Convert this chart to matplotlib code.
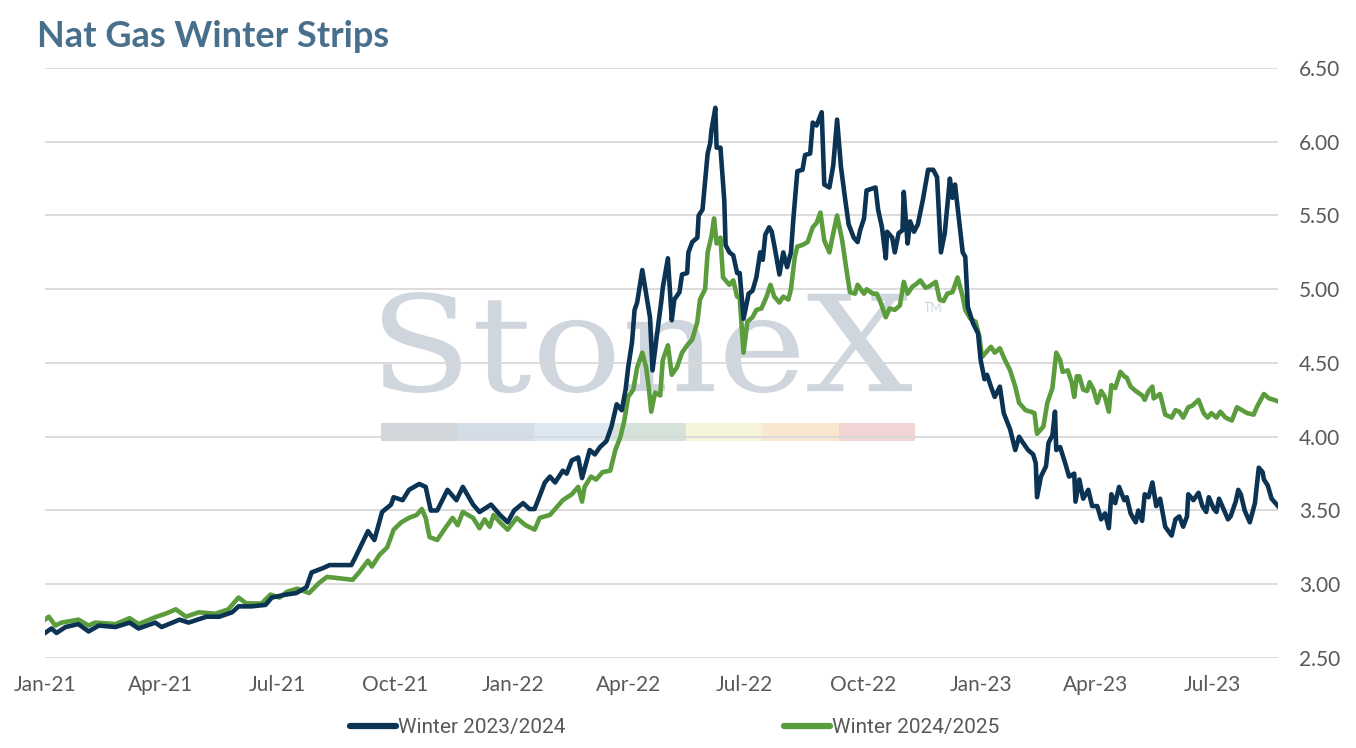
import numpy as np
import pandas as pd
import matplotlib
matplotlib.use('Agg')
import matplotlib.pyplot as plt
import matplotlib.dates as mdates
from matplotlib.ticker import FormatStrFormatter
from matplotlib.textpath import TextPath
from matplotlib.patches import PathPatch, Rectangle
from matplotlib.font_manager import FontProperties
from matplotlib.transforms import Affine2D, IdentityTransform

# ---- data ($/MMBtu) ----
w2324_dates = [
    '2021-01-01', '2021-01-06', '2021-01-10', '2021-01-17', '2021-01-27', '2021-02-04', '2021-02-12', '2021-02-25', '2021-03-08', '2021-03-15',
    '2021-03-28', '2021-04-02', '2021-04-16', '2021-04-23', '2021-05-07', '2021-05-17', '2021-05-27', '2021-06-01', '2021-06-11', '2021-06-22',
    '2021-06-27', '2021-07-08', '2021-07-16', '2021-07-24', '2021-07-28', '2021-08-06', '2021-08-11', '2021-08-19', '2021-08-28', '2021-08-31',
    '2021-09-05', '2021-09-10', '2021-09-15', '2021-09-21', '2021-09-28', '2021-09-30', '2021-10-07', '2021-10-12', '2021-10-20', '2021-10-25',
    '2021-10-29', '2021-11-03', '2021-11-11', '2021-11-18', '2021-11-23', '2021-12-01', '2021-12-06', '2021-12-15', '2021-12-22', '2021-12-28',
    '2022-01-02', '2022-01-09', '2022-01-14', '2022-01-18', '2022-01-26', '2022-01-30', '2022-02-03', '2022-02-09', '2022-02-12', '2022-02-16',
    '2022-02-21', '2022-02-24', '2022-03-02', '2022-03-06', '2022-03-10', '2022-03-15', '2022-03-19', '2022-03-23', '2022-03-27', '2022-03-30',
    '2022-04-01', '2022-04-04', '2022-04-06', '2022-04-08', '2022-04-12', '2022-04-15', '2022-04-18', '2022-04-20', '2022-04-23', '2022-04-27',
    '2022-04-28', '2022-05-02', '2022-05-05', '2022-05-07', '2022-05-11', '2022-05-13', '2022-05-17', '2022-05-18', '2022-05-21', '2022-05-25',
    '2022-05-26', '2022-05-29', '2022-06-02', '2022-06-04', '2022-06-05', '2022-06-08', '2022-06-09', '2022-06-12', '2022-06-15', '2022-06-16',
    '2022-06-19', '2022-06-22', '2022-06-25', '2022-06-27', '2022-06-30', '2022-07-04', '2022-07-07', '2022-07-10', '2022-07-13', '2022-07-15',
    '2022-07-17', '2022-07-20', '2022-07-22', '2022-07-25', '2022-07-28', '2022-07-31', '2022-08-03', '2022-08-06', '2022-08-08', '2022-08-11',
    '2022-08-15', '2022-08-17', '2022-08-21', '2022-08-23', '2022-08-26', '2022-08-30', '2022-09-01', '2022-09-05', '2022-09-08', '2022-09-11',
    '2022-09-14', '2022-09-17', '2022-09-20', '2022-09-24', '2022-09-27', '2022-09-29', '2022-10-02', '2022-10-04', '2022-10-11', '2022-10-13',
    '2022-10-16', '2022-10-19', '2022-10-20', '2022-10-24', '2022-10-26', '2022-10-29', '2022-11-01', '2022-11-02', '2022-11-05', '2022-11-07',
    '2022-11-10', '2022-11-13', '2022-11-17', '2022-11-21', '2022-11-25', '2022-11-28', '2022-12-01', '2022-12-04', '2022-12-08', '2022-12-10',
    '2022-12-12', '2022-12-15', '2022-12-18', '2022-12-20', '2022-12-22', '2022-12-26', '2022-12-30',
    '2023-01-01', '2023-01-04', '2023-01-06', '2023-01-09', '2023-01-12', '2023-01-16', '2023-01-19', '2023-01-24', '2023-01-28', '2023-01-31',
    '2023-02-03', '2023-02-07', '2023-02-11', '2023-02-13', '2023-02-14', '2023-02-17', '2023-02-21', '2023-02-23', '2023-02-26', '2023-02-28',
    '2023-03-01', '2023-03-04', '2023-03-08', '2023-03-11', '2023-03-15', '2023-03-16', '2023-03-19', '2023-03-22', '2023-03-26', '2023-03-29',
    '2023-04-02', '2023-04-05', '2023-04-08', '2023-04-11', '2023-04-13', '2023-04-16', '2023-04-19', '2023-04-23', '2023-04-25', '2023-04-28',
    '2023-05-02', '2023-05-04', '2023-05-07', '2023-05-09', '2023-05-12', '2023-05-15', '2023-05-18', '2023-05-21', '2023-05-25', '2023-05-30',
    '2023-06-02', '2023-06-05', '2023-06-08', '2023-06-11', '2023-06-12', '2023-06-16', '2023-06-20', '2023-06-23', '2023-06-26', '2023-06-28',
    '2023-07-02', '2023-07-04', '2023-07-06', '2023-07-10', '2023-07-13', '2023-07-15', '2023-07-19', '2023-07-21', '2023-07-23', '2023-07-26',
    '2023-07-30', '2023-08-03', '2023-08-06', '2023-08-09', '2023-08-10', '2023-08-13', '2023-08-16', '2023-08-21',
]
w2324_vals = [
    2.67, 2.70, 2.67, 2.71, 2.73, 2.68, 2.72, 2.71, 2.74, 2.70,
    2.74, 2.71, 2.76, 2.74, 2.78, 2.78, 2.81, 2.85, 2.85, 2.86,
    2.91, 2.93, 2.94, 2.98, 3.08, 3.11, 3.13, 3.13, 3.13, 3.18,
    3.27, 3.36, 3.30, 3.49, 3.54, 3.59, 3.57, 3.64, 3.68, 3.66,
    3.50, 3.50, 3.64, 3.57, 3.66, 3.54, 3.49, 3.54, 3.47, 3.42,
    3.50, 3.55, 3.51, 3.51, 3.69, 3.73, 3.69, 3.77, 3.75, 3.84,
    3.86, 3.72, 3.91, 3.88, 3.93, 3.97, 4.07, 4.22, 4.18, 4.32,
    4.47, 4.64, 4.86, 4.91, 5.13, 4.97, 4.81, 4.45, 4.66, 4.93,
    5.01, 5.21, 4.79, 4.93, 4.98, 5.10, 5.11, 5.25, 5.32, 5.35,
    5.50, 5.54, 5.92, 5.99, 6.08, 6.23, 5.96, 5.96, 5.60, 5.30,
    5.25, 5.23, 5.11, 5.11, 4.80, 4.97, 4.99, 5.08, 5.25, 5.20,
    5.37, 5.42, 5.39, 5.25, 5.10, 5.25, 5.15, 5.25, 5.49, 5.80,
    5.81, 5.91, 5.92, 6.13, 6.11, 6.20, 5.71, 5.69, 5.84, 6.15,
    5.83, 5.63, 5.44, 5.35, 5.32, 5.40, 5.48, 5.67, 5.69, 5.54,
    5.42, 5.21, 5.39, 5.35, 5.25, 5.38, 5.40, 5.66, 5.31, 5.46,
    5.39, 5.44, 5.61, 5.81, 5.81, 5.76, 5.25, 5.38, 5.75, 5.62,
    5.71, 5.48, 5.25, 5.22, 4.88, 4.77, 4.70,
    4.52, 4.39, 4.42, 4.34, 4.27, 4.34, 4.16, 4.05, 3.91, 4.00,
    3.96, 3.91, 3.88, 3.82, 3.59, 3.73, 3.80, 3.96, 4.01, 4.17,
    3.91, 3.93, 3.82, 3.73, 3.75, 3.56, 3.71, 3.58, 3.64, 3.53,
    3.53, 3.44, 3.48, 3.38, 3.61, 3.55, 3.66, 3.57, 3.59, 3.48,
    3.42, 3.50, 3.43, 3.61, 3.59, 3.69, 3.53, 3.58, 3.39, 3.33,
    3.44, 3.46, 3.39, 3.46, 3.61, 3.57, 3.62, 3.53, 3.49, 3.59,
    3.51, 3.49, 3.58, 3.50, 3.44, 3.46, 3.56, 3.64, 3.61, 3.50,
    3.42, 3.55, 3.79, 3.76, 3.71, 3.67, 3.58, 3.53,
]

w2425_dates = [
    '2021-01-01', '2021-01-04', '2021-01-09', '2021-01-14', '2021-01-27', '2021-02-04', '2021-02-09', '2021-02-25', '2021-03-08', '2021-03-15',
    '2021-03-29', '2021-04-05', '2021-04-13', '2021-04-21', '2021-05-01', '2021-05-14', '2021-05-24', '2021-06-01', '2021-06-07', '2021-06-19',
    '2021-06-26', '2021-07-03', '2021-07-09', '2021-07-17', '2021-07-26', '2021-08-03', '2021-08-09', '2021-08-19', '2021-08-29', '2021-09-03',
    '2021-09-10', '2021-09-13', '2021-09-19', '2021-09-25', '2021-09-30', '2021-10-06', '2021-10-12', '2021-10-18', '2021-10-22', '2021-10-25',
    '2021-10-28', '2021-11-03', '2021-11-10', '2021-11-15', '2021-11-19', '2021-11-23', '2021-12-01', '2021-12-06', '2021-12-10', '2021-12-14',
    '2021-12-17', '2021-12-22', '2021-12-28',
    '2022-01-04', '2022-01-11', '2022-01-18', '2022-01-22', '2022-01-30', '2022-02-04', '2022-02-09', '2022-02-16', '2022-02-21', '2022-02-24',
    '2022-02-26', '2022-03-03', '2022-03-07', '2022-03-12', '2022-03-18', '2022-03-22', '2022-03-26', '2022-03-29', '2022-04-01', '2022-04-05',
    '2022-04-08', '2022-04-12', '2022-04-15', '2022-04-17', '2022-04-19', '2022-04-22', '2022-04-26', '2022-04-28', '2022-05-02', '2022-05-05',
    '2022-05-09', '2022-05-13', '2022-05-17', '2022-05-21', '2022-05-25', '2022-05-27', '2022-05-31', '2022-06-02', '2022-06-05', '2022-06-07',
    '2022-06-09', '2022-06-12', '2022-06-14', '2022-06-17', '2022-06-19', '2022-06-22', '2022-06-25', '2022-06-27', '2022-06-30', '2022-07-03',
    '2022-07-07', '2022-07-10', '2022-07-14', '2022-07-18', '2022-07-21', '2022-07-24', '2022-07-28', '2022-07-31', '2022-08-04', '2022-08-06',
    '2022-08-09', '2022-08-11', '2022-08-15', '2022-08-19', '2022-08-23', '2022-08-26', '2022-08-29', '2022-09-01', '2022-09-05', '2022-09-08',
    '2022-09-11', '2022-09-15', '2022-09-18', '2022-09-21', '2022-09-25', '2022-09-27', '2022-10-02', '2022-10-04', '2022-10-09', '2022-10-12',
    '2022-10-15', '2022-10-19', '2022-10-22', '2022-10-26', '2022-10-30', '2022-11-02', '2022-11-05', '2022-11-09', '2022-11-11', '2022-11-15',
    '2022-11-19', '2022-11-22', '2022-11-27', '2022-11-30', '2022-12-03', '2022-12-06', '2022-12-10', '2022-12-14', '2022-12-18', '2022-12-20',
    '2022-12-24', '2022-12-28', '2022-12-31',
    '2023-01-02', '2023-01-05', '2023-01-09', '2023-01-12', '2023-01-16', '2023-01-20', '2023-01-24', '2023-01-28', '2023-01-31', '2023-02-05',
    '2023-02-09', '2023-02-12', '2023-02-14', '2023-02-19', '2023-02-22', '2023-02-26', '2023-03-01', '2023-03-04', '2023-03-06', '2023-03-10',
    '2023-03-13', '2023-03-15', '2023-03-17', '2023-03-19', '2023-03-22', '2023-03-25', '2023-03-27', '2023-03-30', '2023-04-02', '2023-04-05',
    '2023-04-08', '2023-04-11', '2023-04-13', '2023-04-16', '2023-04-20', '2023-04-23', '2023-04-25', '2023-04-28', '2023-05-02', '2023-05-07',
    '2023-05-09', '2023-05-12', '2023-05-15', '2023-05-16', '2023-05-21', '2023-05-25', '2023-05-30', '2023-06-02', '2023-06-05', '2023-06-08',
    '2023-06-12', '2023-06-15', '2023-06-20', '2023-06-24', '2023-06-27', '2023-06-30', '2023-07-04', '2023-07-07', '2023-07-11', '2023-07-16',
    '2023-07-20', '2023-07-24', '2023-07-28', '2023-08-02', '2023-08-05', '2023-08-10', '2023-08-14', '2023-08-18', '2023-08-21',
]
w2425_vals = [
    2.76, 2.78, 2.72, 2.74, 2.76, 2.72, 2.74, 2.73, 2.77, 2.73,
    2.78, 2.80, 2.83, 2.78, 2.81, 2.80, 2.83, 2.91, 2.87, 2.87,
    2.93, 2.91, 2.95, 2.97, 2.94, 3.01, 3.05, 3.04, 3.03, 3.08,
    3.16, 3.12, 3.20, 3.25, 3.37, 3.42, 3.45, 3.47, 3.51, 3.45,
    3.32, 3.30, 3.39, 3.45, 3.40, 3.49, 3.45, 3.38, 3.44, 3.39,
    3.47, 3.42, 3.37,
    3.45, 3.40, 3.37, 3.45, 3.47, 3.52, 3.57, 3.61, 3.66, 3.56,
    3.66, 3.73, 3.71, 3.76, 3.77, 3.91, 4.00, 4.11, 4.27, 4.32,
    4.47, 4.57, 4.47, 4.34, 4.17, 4.30, 4.28, 4.52, 4.62, 4.42,
    4.47, 4.57, 4.62, 4.66, 4.78, 4.93, 5.00, 5.25, 5.36, 5.48,
    5.31, 5.35, 5.08, 5.05, 5.03, 5.06, 4.95, 4.94, 4.57, 4.78,
    4.81, 4.86, 4.87, 4.95, 5.03, 4.95, 4.91, 4.95, 4.93, 5.00,
    5.22, 5.29, 5.30, 5.32, 5.42, 5.45, 5.52, 5.33, 5.25, 5.38,
    5.50, 5.33, 5.15, 4.98, 4.97, 5.03, 4.97, 5.00, 4.97, 4.97,
    4.91, 4.81, 4.87, 4.86, 4.89, 5.05, 4.97, 5.02, 5.03, 5.06,
    5.01, 5.02, 5.05, 4.93, 4.92, 4.97, 4.98, 5.08, 4.95, 4.86,
    4.80, 4.78, 4.68,
    4.54, 4.57, 4.61, 4.57, 4.60, 4.52, 4.45, 4.34, 4.23, 4.18,
    4.17, 4.16, 4.02, 4.07, 4.23, 4.33, 4.57, 4.52, 4.44, 4.45,
    4.37, 4.27, 4.41, 4.41, 4.32, 4.31, 4.37, 4.32, 4.23, 4.31,
    4.27, 4.17, 4.35, 4.33, 4.44, 4.41, 4.40, 4.34, 4.31, 4.28,
    4.25, 4.31, 4.34, 4.26, 4.29, 4.15, 4.13, 4.18, 4.17, 4.13,
    4.20, 4.21, 4.25, 4.16, 4.13, 4.16, 4.13, 4.17, 4.13, 4.11,
    4.20, 4.18, 4.16, 4.15, 4.21, 4.29, 4.26, 4.25, 4.24,
]

series_names = ['Winter 2023/2024', 'Winter 2024/2025']
series_colors = ['#0b3354', '#5b9c3d']
y_ticks = np.arange(2.5, 6.51, 0.5)
x_ticks = pd.date_range('2021-01-01', '2023-07-01', freq='QS')

W, H = 1356, 748
fig = plt.figure(figsize=(W / 100, H / 100), dpi=100)
ax = fig.add_axes([45 / W, 1 - 658 / H, (1278 - 45) / W, (658 - 68) / H])
ax.patch.set_alpha(0)

# ---- StoneX watermark (figure level, below the grid) ----
wm_color = '#cfd6de'
tp = TextPath((0, 0), 'StoneX', size=100, prop=FontProperties(family='DejaVu Serif'))
ext = tp.get_extents()
x0, x1, ybot, ytop = 382, 912, H - 393, H - 292
tr = Affine2D().translate(-ext.x0, -ext.y0).scale((x1 - x0) / ext.width, (ytop - ybot) / ext.height).translate(x0, ybot)
fig.add_artist(PathPatch(tr.transform_path(tp), transform=IdentityTransform(), fc=wm_color, ec='none', zorder=-1))
fig.text(924 / W, 1 - 312 / H, 'TM', fontsize=9, color=wm_color, family='Lato', zorder=-1)
bar_colors = ['#d1d6dd', '#d2dde7', '#dce8f1', '#d5e3da', '#f6f4db', '#f9e7cf', '#f1d4d4']
seg = (915 - 381) / len(bar_colors)
for i, c in enumerate(bar_colors):
    fig.add_artist(Rectangle((381 + i * seg, H - 441), seg, 18, transform=IdentityTransform(),
                             fc=c, ec='none', zorder=-1))

# ---- lines ----
s1 = pd.Series(w2324_vals, index=pd.to_datetime(w2324_dates))
s2 = pd.Series(w2425_vals, index=pd.to_datetime(w2425_dates))
l1, = ax.plot(s1.index, s1.values, color=series_colors[0], lw=3.3, solid_joinstyle='round', zorder=3)
l2, = ax.plot(s2.index, s2.values, color=series_colors[1], lw=3.3, solid_joinstyle='round', zorder=2)

ax.set_xlim(pd.Timestamp('2021-01-01'), pd.Timestamp('2023-08-21'))
ax.set_ylim(2.5, 6.5)
ax.set_xticks(x_ticks)
ax.xaxis.set_major_formatter(mdates.DateFormatter('%b-%y'))
ax.yaxis.tick_right()
ax.set_yticks(y_ticks)
ax.yaxis.set_major_formatter(FormatStrFormatter('%.2f'))
ax.tick_params(length=0, labelsize=15, labelcolor='#595959')
ax.tick_params(axis='x', pad=12)
ax.tick_params(axis='y', pad=15)
for lab in ax.get_xticklabels() + ax.get_yticklabels():
    lab.set_family('Lato')
for s in ax.spines.values():
    s.set_visible(False)
ax.grid(axis='y', color='#d9d9d9', lw=1.3)
ax.set_axisbelow(True)

fig.text(37 / W, 1 - 47 / H, 'Nat Gas Winter Strips', fontsize=26, fontweight='bold',
         family='Lato', color='#48708c', va='baseline')

leg = fig.legend([l1, l2], series_names, loc='center left', bbox_to_anchor=(350 / W, 1 - 728 / H),
                 ncol=2, frameon=False, borderpad=0, borderaxespad=0, handlelength=2.2,
                 handletextpad=0.1, columnspacing=10.5,
                 prop=FontProperties(family='Roboto', size=15))
for t in leg.get_texts():
    t.set_color('#595959')
for h in leg.legend_handles:
    h.set_linewidth(4.5)
    h.set_solid_capstyle('round')

fig.savefig('out.png', dpi=100)
